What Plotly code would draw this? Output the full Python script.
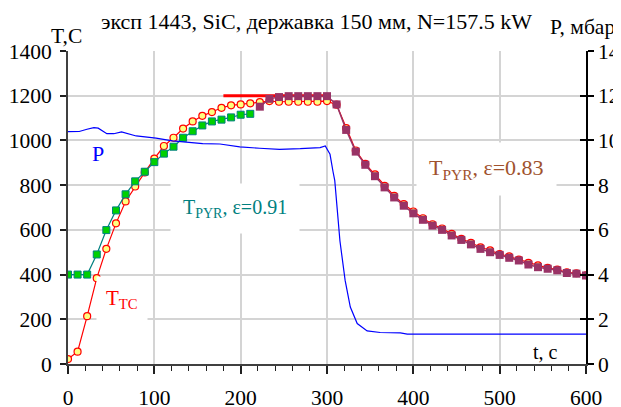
import plotly.graph_objects as go

# time stamps (s)
t = [0, 11.1, 22.2, 33.3, 44.4, 55.6, 66.7, 77.8, 88.9, 100, 111.1, 122.2, 133.3, 144.4,
     155.6, 166.7, 177.8, 188.9, 200, 211.1, 222.2, 233.3, 244.4, 255.6, 266.7, 277.8,
     288.9, 300, 311.1, 322.2, 333.3, 344.4, 355.6, 366.7, 377.8, 388.9, 400, 411.1,
     422.2, 433.3, 444.4, 455.6, 466.7, 477.8, 488.9, 500, 511.1, 522.2, 533.3, 544.4,
     555.6, 566.7, 577.8, 588.9, 600]

# thermocouple temperature T_TC, C
T_tc = [22, 55, 214, 384, 515, 629, 727, 794, 857, 919, 975, 1012, 1053, 1085, 1110, 1127,
        1146, 1157, 1161, 1166, 1171, 1176, 1173, 1173, 1173, 1173, 1173, 1176, 1160, 1055,
        955, 895, 848, 797, 752, 715, 682, 652, 625, 606, 582, 560, 542, 522, 508, 492,
        481, 467, 452, 441, 430, 422, 410, 406, 397]

# pyrometer, eps = 0.91 (first 20 points)
t_p1 = t[:20]
T_pyr1 = [400, 400, 400, 490, 599, 687, 759, 817, 860, 903, 941, 972, 1012, 1041, 1067,
          1085, 1093, 1103, 1115, 1119]

# pyrometer, eps = 0.83
t_p2 = t[20:]
T_pyr2 = [1151, 1186, 1194, 1198, 1198, 1198, 1198, 1198, 1161, 1047, 950, 891, 840, 790,
          745, 708, 674, 645, 619, 600, 575, 555, 535, 515, 500, 488, 475, 463, 445, 433,
          426, 419, 407, 404, 396]

# pressure P, mbar
t_P = [0, 13, 22, 30, 35, 45, 53, 62, 79, 102, 121, 156, 176, 199, 222, 245, 269, 292,
       298, 301, 303.5, 307, 309, 315, 321, 327, 335, 346.5, 361.6, 385, 393, 450, 520, 600]
P = [10.39, 10.4, 10.5, 10.57, 10.55, 10.3, 10.3, 10.38, 10.2, 10.1, 9.98, 9.86, 9.84,
     9.71, 9.65, 9.6, 9.63, 9.68, 9.75, 9.55, 9.38, 8.6, 8.2, 5.5, 3.74, 2.55, 1.81, 1.48,
     1.41, 1.39, 1.34, 1.34, 1.34, 1.34]

# reference level
t_ref = [180, 300]
T_ref = [1200, 1200]

FONT = "Liberation Serif"

fig = go.Figure()
fig.add_trace(go.Scatter(x=t_P, y=P, yaxis="y2", mode="lines",
                         line=dict(color="#0000ff", width=1.2), showlegend=False))
fig.add_trace(go.Scatter(x=t_ref, y=T_ref, mode="lines",
                         line=dict(color="#ff0000", width=3), showlegend=False))
fig.add_trace(go.Scatter(x=t, y=T_tc, mode="lines+markers",
                         line=dict(color="#ff0000", width=1.2),
                         marker=dict(symbol="circle", size=7, color="#ffff80",
                                     line=dict(color="#ff0000", width=1.2)),
                         showlegend=False))
fig.add_trace(go.Scatter(x=t_p1, y=T_pyr1, mode="lines+markers",
                         line=dict(color="#008080", width=1.2),
                         marker=dict(symbol="square", size=7, color="#00d000",
                                     line=dict(color="#008080", width=1)),
                         showlegend=False))
fig.add_trace(go.Scatter(x=t_p2, y=T_pyr2, mode="lines+markers",
                         line=dict(color="#993366", width=1.5),
                         marker=dict(symbol="square", size=8, color="#993366",
                                     line=dict(color="#993366", width=0)),
                         showlegend=False))
# helper trace for crossing ticks on the right axis
fig.add_trace(go.Scatter(x=[0], y=[0], yaxis="y3", mode="markers",
                         marker=dict(opacity=0), showlegend=False, hoverinfo="skip"))

# the page body has an 8 px margin, so the figure is drawn 8 px right/down
OFF = 8
W, H = 621 - OFF, 407 - OFF
L, R, T, B = 60, 35, 43, 43
pw, ph = W - L - R, H - T - B


def px(x):
    return (x - OFF - L) / pw


def py(y):
    return (H - B - (y - OFF)) / ph


ann = []
def add(text, x, y, color="black", size=20, xref="paper", yref="paper", bg=None, pad=0):
    d = dict(text=text, x=x, y=y, xref=xref, yref=yref, showarrow=False,
             font=dict(family=FONT, size=size, color=color),
             xanchor="center", yanchor="middle")
    if bg:
        d.update(bgcolor=bg, borderpad=pad)
    ann.append(d)

add("эксп 1443, SiC, державка 150 мм, N=157.5 kW", px(316), py(21), size=22)
add("T,C", px(66), py(36), size=21.5)
add("P, мбар", px(582), py(27), size=21.5)
add("t, c", px(545), py(352), size=20)
add("P", px(98), py(153), color="#0000ff", size=22)
add("T<sub>TC</sub>", px(122), py(299), color="#ff0000", size=21, bg="white", pad=9)
add("T<sub>PYR</sub>, ε=0.91", px(235), py(208), color="#008080", size=20,
    bg="white", pad=12)
add("T<sub>PYR</sub>, ε=0.83", px(486), py(169), color="#a0522d", size=22,
    bg="white", pad=12)

tickfont = dict(family=FONT, size=21.5, color="black")
fig.update_layout(
    width=W, height=H,
    margin=dict(l=L, r=R, t=T, b=B, pad=0, autoexpand=False),
    paper_bgcolor="white", plot_bgcolor="white",
    font=dict(family=FONT),
    annotations=ann,
    xaxis=dict(range=[0, 600], dtick=100, tick0=0, showline=True, linecolor="#404040",
               linewidth=2, ticks="outside", ticklen=8, tickwidth=1.5, tickcolor="#202020",
               showgrid=True, gridcolor="#d4d4d4", gridwidth=1.5, zeroline=False,
               tickfont=tickfont, ticklabelstandoff=5, automargin=False,
               minor=dict(dtick=20, ticks="outside", ticklen=5, tickwidth=1,
                          tickcolor="#202020", showgrid=False)),
    yaxis=dict(range=[0, 1400], dtick=200, tick0=0, showline=True, linecolor="#404040",
               linewidth=2, ticks="outside", ticklen=6, tickwidth=1.5, tickcolor="#202020",
               showgrid=True, gridcolor="#d4d4d4", gridwidth=1.5, zeroline=False,
               tickfont=tickfont, ticklabelstandoff=4, automargin=False),
    yaxis2=dict(range=[0, 14], dtick=2, tick0=0, overlaying="y", side="right",
                showline=True, linecolor="black", linewidth=1.5, ticks="outside",
                ticklen=6, tickwidth=1.5, tickcolor="black", showgrid=False,
                zeroline=False, tickfont=tickfont, ticklabelstandoff=0, automargin=False),
    yaxis3=dict(range=[0, 14], dtick=2, tick0=0, overlaying="y", side="right",
                showline=False, ticks="inside", ticklen=6, tickwidth=1.5,
                tickcolor="black", showgrid=False, zeroline=False, showticklabels=False,
                automargin=False),
)

fig.write_html("out.html")
